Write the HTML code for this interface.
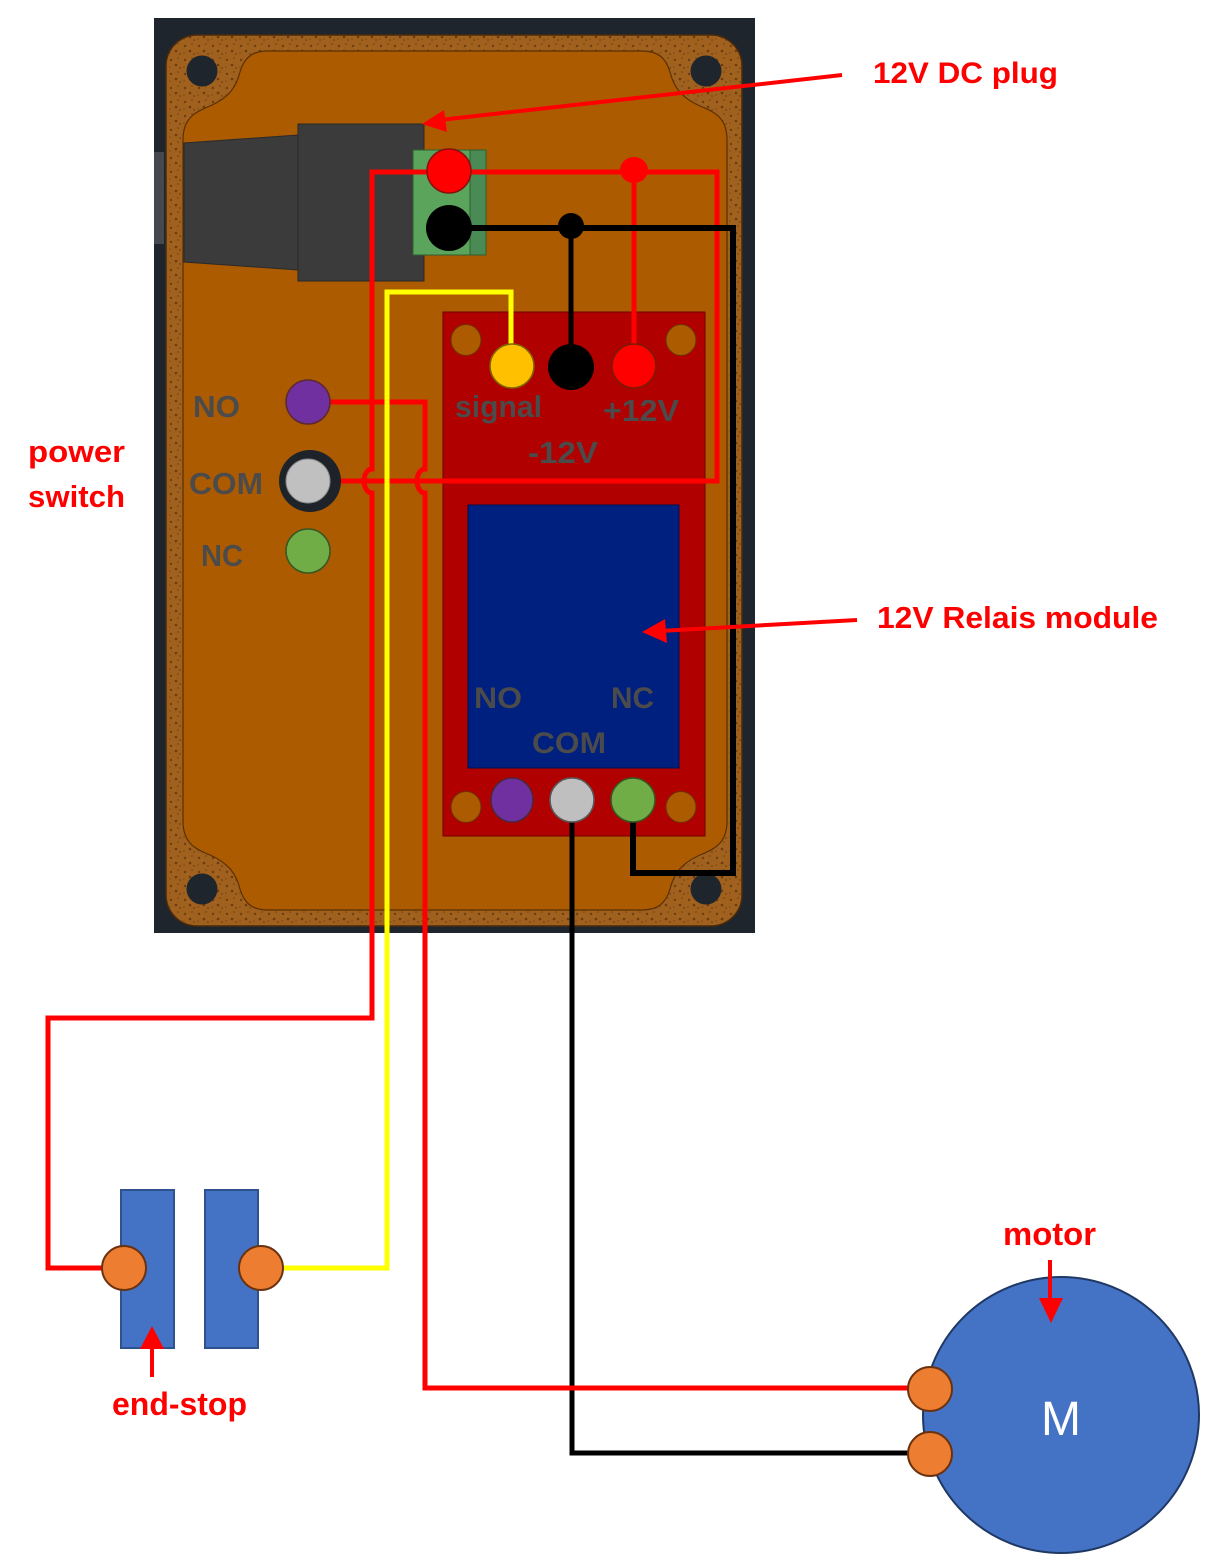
<!DOCTYPE html>
<html>
<head>
<meta charset="utf-8">
<style>
  html,body{margin:0;padding:0;background:#fff;}
  svg{display:block;}
  .lbl{font-family:"Liberation Sans",Arial,sans-serif;font-weight:bold;fill:#ff0000;}
  .g{font-family:"Liberation Sans",Arial,sans-serif;font-weight:bold;fill:#4b4b4b;}
</style>
</head>
<body>
<svg width="1219" height="1568" viewBox="0 0 1219 1568" xmlns="http://www.w3.org/2000/svg">
  <defs>
    <pattern id="cork" width="14" height="14" patternUnits="userSpaceOnUse">
      <rect width="14" height="14" fill="#a0601e"/>
      <circle cx="3" cy="4" r="1.2" fill="#6e3f10"/>
      <circle cx="10" cy="2" r="0.9" fill="#7a4812"/>
      <circle cx="8" cy="9" r="1.3" fill="#6a3c0e"/>
      <circle cx="2" cy="11" r="0.8" fill="#7d4a14"/>
      <circle cx="12" cy="12" r="0.9" fill="#704010"/>
      <circle cx="6" cy="6" r="0.6" fill="#b8782c"/>
    </pattern>
  </defs>
  <rect width="1219" height="1568" fill="#ffffff"/>

  <!-- enclosure -->
  <rect x="154" y="18" width="601" height="915" fill="#1e252d"/>
  <rect x="154" y="152" width="10" height="92" fill="#44494f"/>
  <rect x="166" y="35" width="576" height="891" rx="31" ry="31" fill="url(#cork)" stroke="#4a2a0c" stroke-width="1.5"/>
  <circle cx="202" cy="71" r="15.5" fill="#1e252d"/>
  <circle cx="706" cy="71" r="15.5" fill="#1e252d"/>
  <circle cx="202" cy="889" r="15.5" fill="#1e252d"/>
  <circle cx="706" cy="889" r="15.5" fill="#1e252d"/>
  <path d="M 268,51 L 642,51 C 658,51 666,58 670,72 C 674,88 682,98 700,106 C 715,112 727,118 727,140 L 727,821 C 727,843 715,849 700,855 C 682,863 674,873 670,889 C 666,903 658,910 642,910 L 268,910 C 252,910 244,903 240,889 C 236,873 228,863 210,855 C 195,849 183,843 183,821 L 183,140 C 183,118 195,112 210,106 C 228,98 236,88 240,72 C 244,58 252,51 268,51 Z" fill="#ad5b00" stroke="#5a3000" stroke-width="1.2"/>

  <!-- DC plug -->
  <polygon points="184,143 298,135 298,270 184,262" fill="#3b3b3b" stroke="#2a2a2a" stroke-width="1"/>
  <rect x="298" y="124" width="126" height="157" fill="#3b3b3b" stroke="#2a2a2a" stroke-width="1"/>
  <!-- green terminal block -->
  <rect x="413" y="150" width="73" height="105" fill="#5aa45c" stroke="#2f5f30" stroke-width="1"/>
  <rect x="470" y="150" width="16" height="105" fill="#4a8a55" stroke="#2f5f30" stroke-width="1"/>

  <!-- relay board -->
  <rect x="443" y="312" width="262" height="524" fill="#b00000" stroke="#700000" stroke-width="1"/>
  <rect x="468" y="505" width="211" height="263" fill="#00207f" stroke="#001050" stroke-width="1"/>
  <ellipse cx="466" cy="340" rx="15" ry="15.5" fill="#ad5b00" stroke="#6a3300" stroke-width="1"/>
  <ellipse cx="681" cy="340" rx="15" ry="15.5" fill="#ad5b00" stroke="#6a3300" stroke-width="1"/>
  <ellipse cx="466" cy="807" rx="15" ry="15.5" fill="#ad5b00" stroke="#6a3300" stroke-width="1"/>
  <ellipse cx="681" cy="807" rx="15" ry="15.5" fill="#ad5b00" stroke="#6a3300" stroke-width="1"/>

  <!-- wires -->
  <g fill="none" stroke-linejoin="miter" stroke-linecap="butt">
    <path d="M 449,172 H 717 V 481 H 340" stroke="#ff0000" stroke-width="5"/>
    <path d="M 449,172 H 372 V 469 A 8,12 0 0,0 372,493 V 1018 H 48 V 1268 H 124" stroke="#ff0000" stroke-width="5"/>
    <path d="M 634,170 V 366" stroke="#ff0000" stroke-width="5"/>
    <path d="M 449,228 H 733 V 873 H 633 V 800" stroke="#000000" stroke-width="6"/>
    <path d="M 571,226 V 366" stroke="#000000" stroke-width="5"/>
    <path d="M 572,800 V 1453 H 930" stroke="#000000" stroke-width="5"/>
    <path d="M 308,402 H 425 V 469 A 8,12 0 0,0 425,493 V 1388 H 930" stroke="#ff0000" stroke-width="5"/>
    <path d="M 511,366 V 292 H 387 V 1268 H 262" stroke="#ffff00" stroke-width="5"/>
  </g>

  <!-- junction dots -->
  <ellipse cx="634" cy="170" rx="14" ry="13" fill="#ff0000"/>
  <ellipse cx="571" cy="226" rx="13" ry="13" fill="#000000"/>

  <!-- DC terminals -->
  <ellipse cx="449" cy="171" rx="22" ry="22" fill="#ff0000" stroke="#8a1010" stroke-width="1.5"/>
  <ellipse cx="449" cy="228" rx="23" ry="23" fill="#000000"/>

  <!-- relay top terminals -->
  <ellipse cx="512" cy="366" rx="22" ry="22" fill="#ffc000" stroke="#7f6000" stroke-width="1.5"/>
  <ellipse cx="571" cy="367" rx="23" ry="23" fill="#000000"/>
  <ellipse cx="634" cy="366" rx="22" ry="22" fill="#ff0000" stroke="#7a1a00" stroke-width="1.5"/>
  <!-- relay bottom terminals -->
  <ellipse cx="512" cy="800" rx="21" ry="22" fill="#7030a0" stroke="#4a2a40" stroke-width="1.5"/>
  <ellipse cx="572" cy="800" rx="22" ry="22" fill="#bfbfbf" stroke="#595959" stroke-width="1.5"/>
  <ellipse cx="633" cy="800" rx="22" ry="22" fill="#70ad47" stroke="#375623" stroke-width="1.5"/>

  <!-- power switch -->
  <ellipse cx="308" cy="402" rx="22" ry="22" fill="#7030a0" stroke="#5a2a30" stroke-width="1.5"/>
  <circle cx="310" cy="481" r="31" fill="#1e232a"/>
  <ellipse cx="308" cy="481" rx="22" ry="22" fill="#c0c0c0" stroke="#8a8a8a" stroke-width="1"/>
  <ellipse cx="308" cy="551" rx="22" ry="22" fill="#70ad47" stroke="#375623" stroke-width="1.5"/>

  <!-- gray labels -->
  <text class="g" x="193" y="417" font-size="31" textLength="47" lengthAdjust="spacingAndGlyphs">NO</text>
  <text class="g" x="189" y="494" font-size="31" textLength="74" lengthAdjust="spacingAndGlyphs">COM</text>
  <text class="g" x="201" y="566" font-size="31" textLength="42" lengthAdjust="spacingAndGlyphs">NC</text>
  <text class="g" x="455" y="417" font-size="31" textLength="87" lengthAdjust="spacingAndGlyphs">signal</text>
  <text class="g" x="603" y="421" font-size="31" textLength="76" lengthAdjust="spacingAndGlyphs">+12V</text>
  <text class="g" x="528" y="463" font-size="31" textLength="70" lengthAdjust="spacingAndGlyphs">-12V</text>
  <text class="g" x="474" y="708" font-size="30" textLength="48" lengthAdjust="spacingAndGlyphs">NO</text>
  <text class="g" x="611" y="708" font-size="30" textLength="43" lengthAdjust="spacingAndGlyphs">NC</text>
  <text class="g" x="532" y="753" font-size="30" textLength="74" lengthAdjust="spacingAndGlyphs">COM</text>

  <!-- end-stop -->
  <rect x="121" y="1190" width="53" height="158" fill="#4472c4" stroke="#2f528f" stroke-width="2"/>
  <rect x="205" y="1190" width="53" height="158" fill="#4472c4" stroke="#2f528f" stroke-width="2"/>
  <circle cx="124" cy="1268" r="22" fill="#ed7d31" stroke="#6b3210" stroke-width="2"/>
  <circle cx="261" cy="1268" r="22" fill="#ed7d31" stroke="#6b3210" stroke-width="2"/>

  <!-- motor -->
  <circle cx="1061" cy="1415" r="138" fill="#4472c4" stroke="#1f3864" stroke-width="2"/>
  <circle cx="930" cy="1389" r="22" fill="#ed7d31" stroke="#6b3210" stroke-width="2"/>
  <circle cx="930" cy="1454" r="22" fill="#ed7d31" stroke="#6b3210" stroke-width="2"/>
  <text x="1061" y="1435" font-family="Liberation Sans, Arial, sans-serif" font-size="48" fill="#ffffff" text-anchor="middle">M</text>

  <!-- arrows -->
  <line x1="842" y1="75" x2="440" y2="120" stroke="#ff0000" stroke-width="4"/>
  <polygon points="422,124 447,132 444,110" fill="#ff0000"/>
  <line x1="857" y1="620" x2="660" y2="631" stroke="#ff0000" stroke-width="4"/>
  <polygon points="642,632 667,643 665,619" fill="#ff0000"/>
  <line x1="152" y1="1377" x2="152" y2="1345" stroke="#ff0000" stroke-width="4"/>
  <polygon points="152,1326 140,1349 164,1349" fill="#ff0000"/>
  <line x1="1050" y1="1260" x2="1050" y2="1302" stroke="#ff0000" stroke-width="4"/>
  <polygon points="1051,1323 1039,1298 1063,1298" fill="#ff0000"/>

  <!-- red labels -->
  <text class="lbl" x="873" y="83" font-size="30" textLength="185" lengthAdjust="spacingAndGlyphs">12V DC plug</text>
  <text class="lbl" x="877" y="628" font-size="31" textLength="281" lengthAdjust="spacingAndGlyphs">12V Relais module</text>
  <text class="lbl" x="28" y="462" font-size="31" textLength="97" lengthAdjust="spacingAndGlyphs">power</text>
  <text class="lbl" x="28" y="507" font-size="31" textLength="97" lengthAdjust="spacingAndGlyphs">switch</text>
  <text class="lbl" x="112" y="1415" font-size="32" textLength="135" lengthAdjust="spacingAndGlyphs">end-stop</text>
  <text class="lbl" x="1003" y="1245" font-size="32" textLength="93" lengthAdjust="spacingAndGlyphs">motor</text>
</svg>
</body>
</html>
